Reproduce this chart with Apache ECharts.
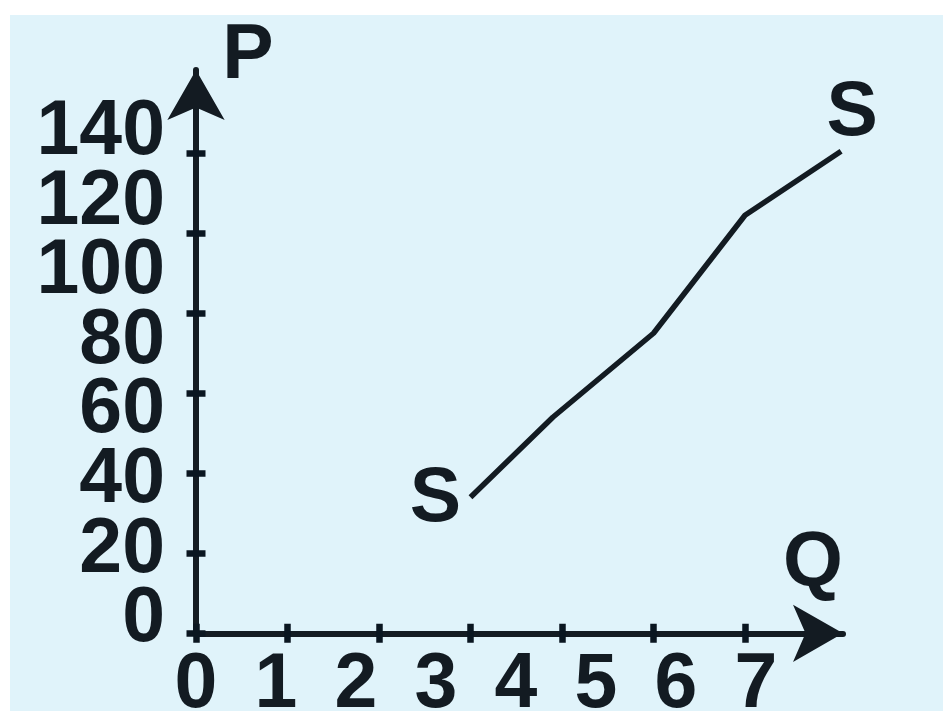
<!DOCTYPE html>
<html>
<head>
<meta charset="utf-8">
<script src="https://cdn.jsdelivr.net/npm/echarts@6/dist/echarts.min.js"></script>
<style>
 html, body { margin: 0; padding: 0; background: #fff; }
 #chart { width: 943px; height: 711px; }
</style>
</head>
<body>
<div id="chart"></div>
<script>
// supply curve S-S
var qValues = [3, 3.9, 5, 6, 7.05];
var pValues = [34, 54, 75, 104.5, 120.5];
var pointNames = ['S', '', '', '', 'S'];

// axis ticks and labels (the labels are not spaced like the ticks)
var qTicks = [0, 1, 2, 3, 4, 5, 6];
var qLabels = [0, 1, 2, 3, 4, 5, 6, 7];
var pTicks = [0, 20, 40, 60, 80, 100, 120];
var pLabels = [0, 20, 40, 60, 80, 100, 120, 140];

var ink = '#131b22';
var font = 'Liberation Sans';

var chart = echarts.init(document.getElementById('chart'));

var seriesData = qValues.map(function (q, i) {
    var item = { value: [q, pValues[i]], name: pointNames[i] };
    if (i === 0) {
        item.label = { show: true, position: 'left', distance: 9, offset: [0, 2] };
    } else if (i === qValues.length - 1) {
        item.label = { show: true, position: 'top', distance: 0, offset: [11, 2] };
    }
    return item;
});

function tickAxis(pos, max, ticks, inside, line) {
    return {
        type: 'value',
        position: pos,
        min: 0,
        max: max,
        axisLine: line ? {
            show: true,
            onZero: false,
            symbol: ['none', 'arrow'],
            symbolSize: [43, 50],
            lineStyle: { color: ink, width: 6 }
        } : { show: false, onZero: false },
        axisTick: {
            show: true,
            inside: inside,
            length: 9.5,
            customValues: ticks,
            lineStyle: { color: '#0a1620', width: 6.5 }
        },
        axisLabel: { show: false },
        splitLine: { show: false }
    };
}

function labelAxis(pos, min, max, values, margin) {
    return {
        type: 'value',
        position: pos,
        min: min,
        max: max,
        axisLine: { show: false, onZero: false },
        axisTick: { show: false },
        splitLine: { show: false },
        axisLabel: {
            customValues: values,
            margin: margin,
            color: ink,
            fontSize: 77,
            fontWeight: 'bold',
            fontFamily: font,
            showMinLabel: true,
            showMaxLabel: true,
            hideOverlap: false
        }
    };
}

// the big price labels overlap each other, so they are split over two axes
var pLabelsA = pLabels.filter(function (v, i) { return i % 2 === 0; });
var pLabelsB = pLabels.filter(function (v, i) { return i % 2 === 1; });

var option = {
    backgroundColor: '#fff',
    animation: false,
    grid: {
        left: 196,
        right: 100,
        top: 70,
        bottom: 77.7,
        containLabel: false,
        outerBoundsMode: 'none'
    },
    graphic: [{
        type: 'rect',
        z: -10,
        shape: { x: 10, y: 15, width: 933, height: 696 },
        style: { fill: '#e0f3fa' }
    }, {
        type: 'text',
        z: 10,
        x: 248,
        y: 57,
        style: { text: 'P', fill: ink, font: 'bold 77px ' + font, textAlign: 'center', textVerticalAlign: 'middle' }
    }, {
        type: 'text',
        z: 10,
        x: 813,
        y: 565,
        style: { text: 'Q', fill: ink, font: 'bold 77px ' + font, textAlign: 'center', textVerticalAlign: 'middle' }
    }],
    xAxis: [
        tickAxis('bottom', 7.071, qTicks, false, true),
        tickAxis('bottom', 7.071, qTicks, true, false),
        labelAxis('bottom', 0, 8.0875, qLabels, 14)
    ],
    yAxis: [
        tickAxis('left', 140.8, pTicks, false, true),
        tickAxis('left', 140.8, pTicks, true, false),
        labelAxis('left', -3.82, 158.05, pLabelsA, 31),
        labelAxis('left', -3.82, 158.05, pLabelsB, 31)
    ],
    series: [{
        type: 'line',
        xAxisIndex: 0,
        yAxisIndex: 0,
        clip: false,
        showSymbol: true,
        symbol: 'circle',
        symbolSize: 1,
        itemStyle: { color: 'rgba(0,0,0,0)' },
        lineStyle: { color: ink, width: 5.5 },
        label: {
            show: false,
            formatter: '{b}',
            color: ink,
            fontSize: 77,
            fontWeight: 'bold',
            fontFamily: font
        },
        data: seriesData
    }]
};

chart.setOption(option);
</script>
</body>
</html>
